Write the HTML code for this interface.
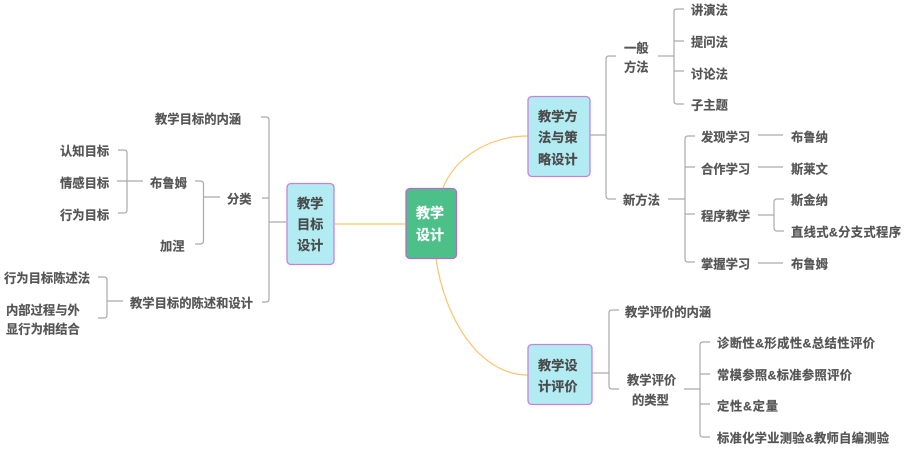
<!DOCTYPE html>
<html><head><meta charset="utf-8"><style>
html,body{margin:0;padding:0;background:#fff;width:905px;height:449px;overflow:hidden}
svg{display:block}
text{font-family:"Liberation Sans","Noto Sans CJK SC",sans-serif;font-weight:700;font-size:12.3px;fill:#555;stroke:#555;stroke-width:.2px}
.t{filter:blur(.3px)}
.b{font-size:13.2px;fill:#4a4a4a;stroke:#4a4a4a}
.r{font-size:14px;fill:#fff;stroke:#fff}
.l{fill:none;stroke:#aaa;stroke-width:1.2}
.o{fill:none;stroke:#fdc36f;stroke-width:1.2}
</style></head><body>
<svg width="905" height="449" viewBox="0 0 905 449" xmlns="http://www.w3.org/2000/svg">
<path class="o" d="M335 224H405M443 188C455 157 490 136 528 136M436 259C445 320 480 375 528 375"/>
<path class="l" d="M261 117H266Q269 117 269 120V299Q269 302 266 302H262M262 198H269M269 222H286"/>
<path class="l" d="M195 181H200Q203.500 181 203.500 184V241Q203.500 244 200 244H195M203.500 197H220"/>
<path class="l" d="M118 150H124Q127 150 127 153V210Q127 213 124 213H118M117 181H143"/>
<path class="l" d="M98 277H104Q107 277 107 280V315Q107 318 104 318H98M107 301H123"/>
<path class="l" d="M616 56H609Q606 56 606 59V196Q606 199 609 199H616M590 135H606"/>
<path class="l" d="M684 9H677Q674 9 674 12V101Q674 104 677 104H684M674 41H684M674 71H684M658 56H674"/>
<path class="l" d="M695 136H688Q685 136 685 139V259Q685 262 688 262H695M668 199H685M685 167H695M685 214H695"/>
<path class="l" d="M758 135H783M758 167H783M758 263H783M758 215H774M784 199H777Q774 199 774 202V228Q774 231 777 231H784"/>
<path class="l" d="M619 310H612Q609 310 609 313V386Q609 389 612 389H619M592 373H609"/>
<path class="l" d="M710 342H703Q700 342 700 345V434Q700 437 703 437H710M684 389H700M700 374H710M700 404H710"/>
<rect x="406" y="188.500" width="50.500" height="70" rx="4" fill="#4dc08a" stroke="#b56cc8" stroke-width="1.300"/>
<rect x="287" y="183.500" width="47" height="81" rx="4" fill="#b2ebf2" stroke="#c583d8" stroke-width="1.300"/>
<rect x="528" y="96.500" width="62" height="80" rx="4" fill="#b2ebf2" stroke="#c583d8" stroke-width="1.300"/>
<rect x="528" y="344.500" width="64" height="60" rx="4" fill="#b2ebf2" stroke="#c583d8" stroke-width="1.300"/>
<g class="t">
<text class="r" x="416" y="218">教学</text>
<text class="r" x="416" y="240">设计</text>
<text class="b" x="297" y="208">教学</text>
<text class="b" x="297" y="229">目标</text>
<text class="b" x="297" y="250">设计</text>
<text class="b" x="538" y="121">教学方</text>
<text class="b" x="538" y="142">法与策</text>
<text class="b" x="538" y="164">略设计</text>
<text class="b" x="538" y="370">教学设</text>
<text class="b" x="538" y="391">计评价</text>
<text x="155" y="123.500">教学目标的内涵</text>
<text x="60" y="155.500">认知目标</text>
<text x="60" y="187.500">情感目标</text>
<text x="60" y="219.500">行为目标</text>
<text x="150" y="187.500">布鲁姆</text>
<text x="227" y="203.500">分类</text>
<text x="160" y="250.500">加涅</text>
<text x="4" y="282.500">行为目标陈述法</text>
<text x="6" y="314.500">内部过程与外</text>
<text x="6" y="333.500">显行为相结合</text>
<text x="130" y="307.500">教学目标的陈述和设计</text>
<text x="624" y="52.500">一般</text>
<text x="624" y="71.500">方法</text>
<text x="691" y="14.500">讲演法</text>
<text x="691" y="46.500">提问法</text>
<text x="691" y="78.500">讨论法</text>
<text x="691" y="109.500">子主题</text>
<text x="623" y="204.500">新方法</text>
<text x="701" y="141.500">发现学习</text>
<text x="701" y="173.500">合作学习</text>
<text x="701" y="220.500">程序教学</text>
<text x="701" y="268.500">掌握学习</text>
<text x="791" y="141.500">布鲁纳</text>
<text x="791" y="173.500">斯莱文</text>
<text x="791" y="204.500">斯金纳</text>
<text x="791" y="236.500" textLength="110" lengthAdjust="spacing">直线式&amp;分支式程序</text>
<text x="791" y="268.500">布鲁姆</text>
<text x="625" y="316.500">教学评价的内涵</text>
<text x="627" y="384.500">教学评价</text>
<text x="632" y="404.500">的类型</text>
<text x="717" y="347.500" textLength="158" lengthAdjust="spacing">诊断性&amp;形成性&amp;总结性评价</text>
<text x="717" y="379.500" textLength="135" lengthAdjust="spacing">常模参照&amp;标准参照评价</text>
<text x="717" y="410.500" textLength="61" lengthAdjust="spacing">定性&amp;定量</text>
<text x="717" y="442.500" textLength="172" lengthAdjust="spacing">标准化学业测验&amp;教师自编测验</text>
</g>
</svg>
</body></html>
